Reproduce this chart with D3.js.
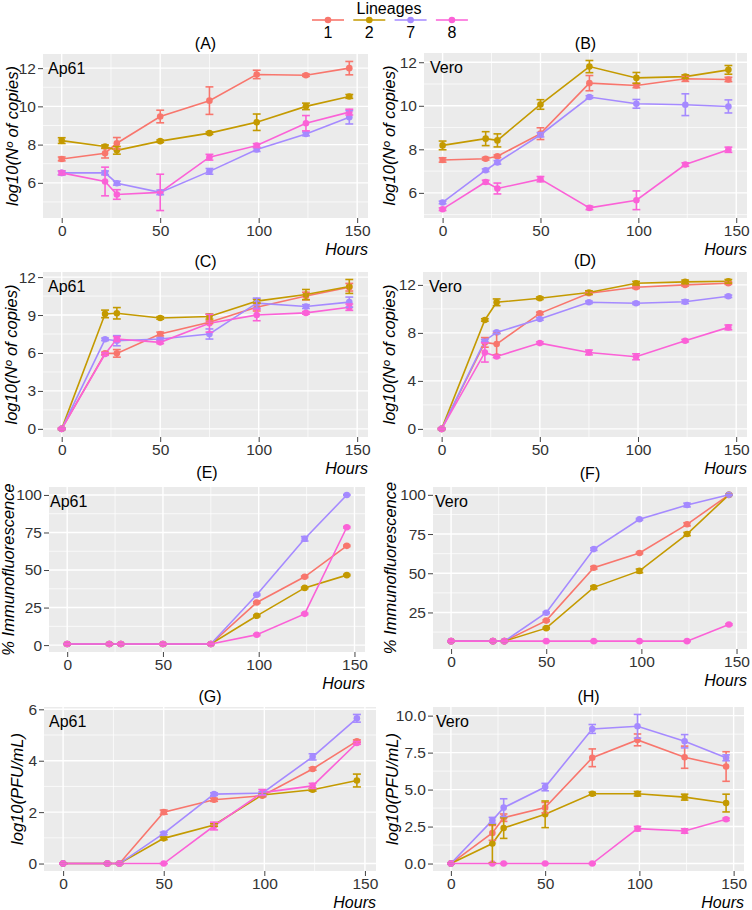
<!DOCTYPE html>
<html>
<head>
<meta charset="utf-8">
<script src="https://cdn.jsdelivr.net/npm/d3@7"></script>
<style>
  body { margin: 0; background: #fff; }
  text { font-family: "Liberation Sans", Arial, sans-serif; }
</style>
</head>
<body>
<div id="chart-area"></div>
<script>
// Data (order of series: lineage 1, 2, 7, 8)
let hours = [0, 22, 28, 50, 75, 99, 124, 146];
let lineages = ["1", "2", "7", "8"];
let colors = ["#F8766D", "#C49A00", "#A58AFF", "#FB61D7"];

// (A) log10 copies, Ap61
let copiesAp61 = [
  [7.25, 7.55, 8.07, 9.47, 10.3, 11.67, 11.63, 12.0],
  [8.21, 7.9, 7.7, 8.18, 8.6, 9.17, 10.0, 10.52],
  [6.52, 6.52, 5.98, 5.5, 6.6, 7.74, 8.56, 9.43],
  [6.52, 6.07, 5.39, 5.5, 7.34, 7.95, 9.12, 9.7]
];
let copiesAp61Err = [
  [0.1, 0.25, 0.3, 0.33, 0.72, 0.22, 0.06, 0.35],
  [0.15, 0.08, 0.2, 0.06, 0.06, 0.43, 0.17, 0.1],
  [0.1, 0.1, 0.1, 0.12, 0.15, 0.1, 0.1, 0.35],
  [0.1, 0.75, 0.25, 0.95, 0.15, 0.1, 0.4, 0.15]
];
// (B) log10 copies, Vero
let copiesVero = [
  [7.51, 7.57, 7.68, 8.72, 11.04, 10.93, 11.24, 11.21],
  [8.18, 8.49, 8.41, 10.06, 11.8, 11.28, 11.34, 11.65],
  [5.56, 7.04, 7.4, 8.67, 10.4, 10.09, 10.05, 9.97],
  [5.25, 6.5, 6.2, 6.63, 5.31, 5.66, 7.3, 7.98]
];
let copiesVeroErr = [
  [0.1, 0.06, 0.06, 0.27, 0.35, 0.1, 0.12, 0.1],
  [0.2, 0.32, 0.3, 0.22, 0.28, 0.25, 0.08, 0.2],
  [0.06, 0.06, 0.08, 0.1, 0.06, 0.2, 0.5, 0.3],
  [0.06, 0.08, 0.25, 0.12, 0.08, 0.43, 0.08, 0.12]
];
// (C) log10 copies, Ap61 (second set)
let copies2Ap61 = [
  [0, 5.97, 5.97, 7.5, 8.43, 9.62, 10.5, 11.2],
  [0, 9.09, 9.14, 8.77, 8.88, 10.1, 10.62, 11.26],
  [0, 7.08, 6.97, 7.1, 7.5, 9.94, 9.67, 10.02],
  [0, 5.92, 7.1, 6.84, 8.35, 9.0, 9.17, 9.62]
];
let copies2Ap61Err = [
  [0.05, 0.1, 0.3, 0.15, 0.1, 0.3, 0.3, 0.3],
  [0.05, 0.3, 0.45, 0.1, 0.2, 0.15, 0.4, 0.55],
  [0.05, 0.1, 0.4, 0.1, 0.4, 0.4, 0.15, 0.4],
  [0.05, 0.1, 0.2, 0.1, 0.7, 0.45, 0.1, 0.25]
];
// (D) log10 copies, Vero (second set)
let copies2Vero = [
  [0, 7.21, 7.07, 9.63, 11.3, 11.8, 12.0, 12.14],
  [0, 9.08, 10.55, 10.89, 11.36, 12.14, 12.25, 12.3],
  [0, 7.35, 8.04, 9.16, 10.55, 10.47, 10.6, 11.05],
  [0, 6.37, 6.04, 7.15, 6.37, 6.01, 7.35, 8.46]
];
let copies2VeroErr = [
  [0.05, 0.4, 0.9, 0.1, 0.1, 0.1, 0.1, 0.1],
  [0.05, 0.1, 0.28, 0.1, 0.15, 0.15, 0.15, 0.15],
  [0.05, 0.1, 0.1, 0.1, 0.1, 0.1, 0.15, 0.1],
  [0.05, 0.8, 0.1, 0.1, 0.2, 0.25, 0.1, 0.2]
];
// (E) % immunofluorescence, Ap61
let ifaAp61 = [
  [0.7, 0.7, 0.7, 0.7, 0.7, 28.4, 45.5, 66.1],
  [0.7, 0.7, 0.7, 0.7, 0.7, 19.5, 38.1, 46.6],
  [0.7, 0.7, 0.7, 0.7, 0.7, 33.5, 70.8, 100],
  [0.7, 0.7, 0.7, 0.7, 0.7, 6.9, 20.8, 78.5]
];
let ifaAp61Err = [
  [0.3, 0.3, 0.3, 0.3, 0.3, 0.5, 0.5, 0.5],
  [0.3, 0.3, 0.3, 0.3, 0.3, 0.5, 0.5, 0.5],
  [0.3, 0.3, 0.3, 0.3, 0.3, 0.5, 1.5, 0.3],
  [0.3, 0.3, 0.3, 0.3, 0.3, 0.5, 0.5, 0.5]
];
// (F) % immunofluorescence, Vero
let ifaVero = [
  [6.7, 6.7, 6.7, 19.8, 53.5, 62.9, 81.2, 100],
  [6.7, 6.7, 6.7, 15.0, 41.0, 51.5, 75.0, 100],
  [6.7, 6.7, 6.7, 24.8, 65.4, 84.4, 93.5, 100],
  [6.7, 6.7, 6.7, 6.7, 6.7, 6.7, 6.7, 17.3]
];
let ifaVeroErr = [
  [0.3, 0.3, 0.3, 0.5, 0.8, 0.5, 1.0, 0.3],
  [0.3, 0.3, 0.3, 0.5, 0.8, 1.2, 1.0, 0.3],
  [0.3, 0.3, 0.3, 0.5, 0.8, 0.5, 1.2, 0.3],
  [0.3, 0.3, 0.3, 0.3, 0.3, 0.3, 0.3, 0.5]
];
// (G) log10 PFU/mL, Ap61
let pfuAp61 = [
  [0, 0, 0, 2.0, 2.48, 2.64, 3.68, 4.76],
  [0, 0, 0, 0.98, 1.5, 2.67, 2.87, 3.23],
  [0, 0, 0, 1.17, 2.7, 2.74, 4.15, 5.65],
  [0, 0, 0, 0, 1.46, 2.76, 3.02, 4.69]
];
let pfuAp61Err = [
  [0, 0, 0, 0.08, 0.06, 0.05, 0.05, 0.05],
  [0, 0, 0, 0.05, 0.05, 0.05, 0.05, 0.25],
  [0, 0, 0, 0.05, 0.05, 0.05, 0.12, 0.15],
  [0, 0, 0, 0, 0.15, 0.12, 0.1, 0.05]
];
// (H) log10 PFU/mL, Vero
let pfuVero = [
  [0, 2.07, 3.1, 3.78, 7.15, 8.36, 7.19, 6.56],
  [0, 1.35, 2.4, 3.33, 4.72, 4.72, 4.49, 4.09],
  [0, 2.92, 3.78, 5.17, 9.1, 9.28, 8.27, 7.15],
  [0, 0, 0, 0, 0, 2.36, 2.2, 2.99]
];
let pfuVeroErr = [
  [0, 0.5, 0.25, 0.35, 0.6, 0.4, 0.75, 1.0],
  [0, 1.3, 0.7, 0.9, 0.1, 0.15, 0.2, 0.6],
  [0, 0.2, 0.6, 0.25, 0.3, 0.8, 0.45, 0.2],
  [0, 0, 0, 0, 0, 0.15, 0.15, 0.08]
];

let xTicks = [0, 50, 100, 150];
let xMinor = [25, 75, 125];

// panel layout: box = [left, top, right, bottom]
let panels = [
  {tag: "(A)", cell: "Ap61", vals: copiesAp61, errs: copiesAp61Err, ticks: [6, 8, 10, 12], ytitle: "log10(Nº of copies)", box: [43, 54, 368, 218], tx: 12, lx: 5, ty: 5},
  {tag: "(B)", cell: "Vero", vals: copiesVero, errs: copiesVeroErr, ticks: [6, 8, 10, 12], ytitle: "log10(Nº of copies)", box: [424, 53, 747, 218], tx: 389, lx: 6, ty: 4},
  {tag: "(C)", cell: "Ap61", vals: copies2Ap61, errs: copies2Ap61Err, ticks: [0, 3, 6, 9, 12], ytitle: "log10(Nº of copies)", box: [43, 272, 368, 437], tx: 11, lx: 5, ty: 5},
  {tag: "(D)", cell: "Vero", vals: copies2Vero, errs: copies2VeroErr, ticks: [0, 4, 8, 12], ytitle: "log10(Nº of copies)", box: [423, 272, 747, 437], tx: 389, lx: 6, ty: 6},
  {tag: "(E)", cell: "Ap61", vals: ifaAp61, errs: ifaAp61Err, ticks: [0, 25, 50, 75, 100], ytitle: "% Immunofluorescence", box: [49, 487, 365, 652], tx: 8, lx: 1, ty: 9},
  {tag: "(F)", cell: "Vero", vals: ifaVero, errs: ifaVeroErr, ticks: [25, 50, 75, 100], ytitle: "% Immunofluorescence", box: [433, 487, 747, 649], tx: 390, lx: 2, ty: 8},
  {tag: "(G)", cell: "Ap61", vals: pfuAp61, errs: pfuAp61Err, ticks: [0, 2, 4, 6], ytitle: "log10(PFU/mL)", box: [44, 707, 376, 871], tx: 17, lx: 5, ty: 5},
  {tag: "(H)", cell: "Vero", vals: pfuVero, errs: pfuVeroErr, ticks: [0, 2.5, 5, 7.5, 10], ytitle: "log10(PFU/mL)", box: [433, 707, 744, 871], tx: 392, lx: 3, ty: 5, fmt: d3.format(".1f")}
];

let svg = d3.select("#chart-area").append("svg")
    .attr("width", 752)
    .attr("height", 910);

// legend
let legend = svg.append("g");
legend.append("text")
    .attr("x", 389).attr("y", 14)
    .attr("text-anchor", "middle")
    .attr("font-size", 16)
    .text("Lineages");
lineages.forEach(function(l, i) {
  let cx = 328 + i * 41.3;
  legend.append("line")
      .attr("x1", cx - 16).attr("x2", cx + 16)
      .attr("y1", 20).attr("y2", 20)
      .attr("stroke", colors[i]).attr("stroke-width", 1.6);
  legend.append("circle")
      .attr("cx", cx).attr("cy", 20).attr("r", 3.3)
      .attr("fill", colors[i]);
  legend.append("text")
      .attr("x", cx).attr("y", 38)
      .attr("text-anchor", "middle")
      .attr("font-size", 16)
      .text(l);
});

let capHalf = 2; // error bar cap half-width, in hours

panels.forEach(function(p) {
  let [left, top, right, bottom] = p.box;
  let g = svg.append("g");

  let xs = d3.scaleLinear()
      .domain([-capHalf - 0.05 * (146 + 2 * capHalf), 146 + capHalf + 0.05 * (146 + 2 * capHalf)])
      .range([left, right]);

  let lo = d3.min(p.vals, (s, i) => d3.min(s, (v, j) => v - p.errs[i][j]));
  let hi = d3.max(p.vals, (s, i) => d3.max(s, (v, j) => v + p.errs[i][j]));
  let pad = 0.05 * (hi - lo);
  let ys = d3.scaleLinear().domain([lo - pad, hi + pad]).range([bottom, top]);

  g.append("rect")
      .attr("x", left).attr("y", top)
      .attr("width", right - left).attr("height", bottom - top)
      .attr("fill", "#EBEBEB");

  // minor grid
  let step = p.ticks[1] - p.ticks[0];
  let yMinor = [p.ticks[0] - step / 2].concat(p.ticks.map(t => t + step / 2))
      .filter(v => v >= ys.domain()[0] && v <= ys.domain()[1]);
  g.selectAll(".ymin").data(yMinor).enter().append("line")
      .attr("x1", left).attr("x2", right)
      .attr("y1", d => ys(d)).attr("y2", d => ys(d))
      .attr("stroke", "#fff").attr("stroke-width", 0.7);
  g.selectAll(".xmin").data(xMinor).enter().append("line")
      .attr("y1", top).attr("y2", bottom)
      .attr("x1", d => xs(d)).attr("x2", d => xs(d))
      .attr("stroke", "#fff").attr("stroke-width", 0.7);
  // major grid
  g.selectAll(".ymaj").data(p.ticks).enter().append("line")
      .attr("x1", left).attr("x2", right)
      .attr("y1", d => ys(d)).attr("y2", d => ys(d))
      .attr("stroke", "#fff").attr("stroke-width", 1.4);
  g.selectAll(".xmaj").data(xTicks).enter().append("line")
      .attr("y1", top).attr("y2", bottom)
      .attr("x1", d => xs(d)).attr("x2", d => xs(d))
      .attr("stroke", "#fff").attr("stroke-width", 1.4);

  // axes
  let yAxis = d3.axisLeft(ys).tickValues(p.ticks).tickSize(5).tickPadding(2)
      .tickFormat(p.fmt || (d => String(d)));
  let ya = g.append("g").attr("transform", "translate(" + left + ",0)").call(yAxis);
  let xa = g.append("g").attr("transform", "translate(0," + bottom + ")")
      .call(d3.axisBottom(xs).tickValues(xTicks).tickSize(5).tickPadding(2).tickFormat(d => String(d)));
  [ya, xa].forEach(function(a) {
    a.select(".domain").remove();
    a.selectAll("line").attr("stroke", "#444").attr("stroke-width", 1);
    a.selectAll("text").attr("font-size", 15.5).attr("fill", "#333")
        .attr("font-family", "Liberation Sans, Arial, sans-serif");
  });

  // lines, points, error bars
  let line = d3.line().x((d, j) => xs(hours[j])).y(d => ys(d));
  p.vals.forEach(function(s, i) {
    g.append("path").attr("d", line(s))
        .attr("fill", "none").attr("stroke", colors[i]).attr("stroke-width", 1.6);
  });
  p.vals.forEach(function(s, i) {
    g.selectAll(null).data(s).enter().append("circle")
        .attr("cx", (d, j) => xs(hours[j])).attr("cy", d => ys(d))
        .attr("r", 3.3).attr("fill", colors[i]);
  });
  p.vals.forEach(function(s, i) {
    let e = p.errs[i];
    let eb = g.append("g").attr("stroke", colors[i]).attr("stroke-width", 1.6);
    s.forEach(function(v, j) {
      let x0 = xs(hours[j] - capHalf), x1 = xs(hours[j] + capHalf), xc = xs(hours[j]);
      eb.append("line").attr("x1", xc).attr("x2", xc).attr("y1", ys(v - e[j])).attr("y2", ys(v + e[j]));
      eb.append("line").attr("x1", x0).attr("x2", x1).attr("y1", ys(v - e[j])).attr("y2", ys(v - e[j]));
      eb.append("line").attr("x1", x0).attr("x2", x1).attr("y1", ys(v + e[j])).attr("y2", ys(v + e[j]));
    });
  });

  // labels
  g.append("text")
      .attr("x", (left + right) / 2).attr("y", top - p.ty)
      .attr("text-anchor", "middle").attr("font-size", 16)
      .text(p.tag);
  g.append("text")
      .attr("x", left + p.lx).attr("y", top + 20)
      .attr("font-size", 16)
      .text(p.cell);
  g.append("text")
      .attr("x", right).attr("y", bottom + 37)
      .attr("text-anchor", "end").attr("font-size", 16).attr("font-style", "italic")
      .text("Hours");
  g.append("text")
      .attr("transform", "translate(" + (p.tx + 6) + "," + ((top + bottom) / 2) + ") rotate(-90)")
      .attr("text-anchor", "middle").attr("font-size", 16.5).attr("font-style", "italic")
      .text(p.ytitle);
});
</script>
</body>
</html>
